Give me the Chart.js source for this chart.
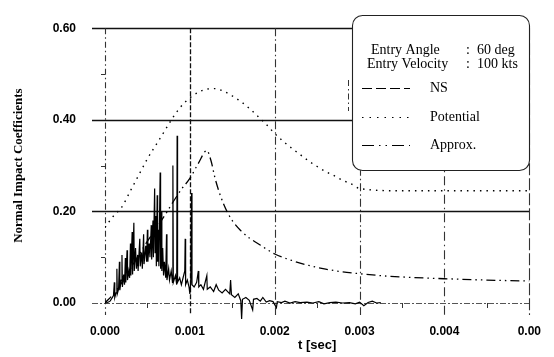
<!DOCTYPE html>
<html>
<head>
<meta charset="utf-8">
<script src="https://cdn.jsdelivr.net/npm/chart.js@4"></script>
<style>
html,body{margin:0;padding:0;background:#fff;}
#wrap{width:554px;height:357px;position:relative;}
</style>
</head>
<body>
<div id="wrap"><canvas id="c"></canvas></div>
<script>
// ---------- data (time in ms, displayed as seconds) ----------
const xTickLabels = ["0.000","0.001","0.002","0.003","0.004","0.00"];
const yTickLabels = ["0.00","0.20","0.40","0.60"];
const yMinorTicks = [0.1, 0.3, 0.5];
const xMinorTicks = [0.5, 1.5, 2.5, 3.5, 4.5];
const xGridValues = [0, 1, 2, 3, 4, 5];
const yGridValues = [0.2, 0.4, 0.6];

const seriesNames = ["NS", "Potential", "Approx."];
const headerLines = [["Entry Angle", ":", "60 deg"], ["Entry Velocity", ":", "100 kts"]];

const nsT = [0.00,0.03,0.06,0.08,0.10,0.11,0.115,0.13,0.14,0.145,0.16,0.17,0.175,0.19,0.20,0.205,0.22,0.23,0.24,0.245,
  0.26,0.265,0.28,0.29,0.30,0.305,0.32,0.325,0.34,0.345,0.36,0.37,0.385,0.39,0.41,0.415,0.43,0.44,0.455,0.46,
  0.48,0.49,0.50,0.505,0.52,0.53,0.545,0.55,0.565,0.57,0.585,0.59,0.60,0.605,0.615,0.62,0.63,0.635,0.65,0.655,
  0.665,0.67,0.68,0.69,0.70,0.715,0.725,0.73,0.75,0.76,0.78,0.795,0.80,0.805,0.83,0.845,0.85,0.855,0.88,0.90,
  0.94,0.945,0.95,0.97,0.99,1.00,1.01,1.02,1.025,1.05,1.08,1.10,1.105,1.13,1.16,1.20,1.205,1.24,1.28,1.31,
  1.34,1.38,1.42,1.47,1.48,1.49,1.53,1.57,1.60,1.61,1.62,1.66,1.70,1.74,1.75,1.79,1.83,1.86,1.90,1.94,
  1.98,2.02,2.03,2.08,2.12,2.18,2.24,2.30,2.38,2.45,2.52,2.58,2.65,2.72,2.80,2.88,2.95,3.00,3.05,3.10,3.15,3.20,3.25];
const nsV = [0.000,0.001,0.004,0.010,0.016,0.045,0.012,0.022,0.075,0.020,0.030,0.090,0.028,0.050,0.105,0.035,0.062,0.040,0.098,0.045,
  0.115,0.050,0.070,0.055,0.130,0.060,0.155,0.062,0.175,0.070,0.120,0.075,0.105,0.070,0.140,0.080,0.110,0.075,0.150,0.085,
  0.125,0.090,0.160,0.090,0.130,0.100,0.170,0.095,0.180,0.100,0.250,0.110,0.190,0.080,0.235,0.090,0.160,0.080,0.285,0.075,
  0.200,0.070,0.120,0.060,0.090,0.055,0.150,0.050,0.075,0.050,0.070,0.045,0.300,0.045,0.060,0.040,0.365,0.045,0.055,0.040,
  0.070,0.140,0.040,0.050,0.035,0.020,0.045,0.240,0.040,0.035,0.045,0.070,0.035,0.040,0.030,0.060,0.030,0.035,0.025,0.040,
  0.028,0.022,0.030,0.020,0.050,0.018,0.012,0.020,0.005,-0.035,0.008,0.012,0.006,-0.015,0.008,0.010,0.004,0.012,0.002,0.005,
  0.003,-0.010,0.003,0.001,0.004,0.000,0.003,0.001,0.002,0.000,0.003,-0.002,0.001,0.002,0.000,0.001,-0.002,0.002,-0.006,0.001,0.004,0.000,0.001];

const potT = [0.0,0.05,0.1,0.2,0.3,0.4,0.5,0.6,0.7,0.8,0.9,1.0,1.1,1.2,1.3,1.4,1.5,1.6,1.7,1.8,1.9,2.0,2.1,2.2,2.3,2.4,2.5,2.6,2.7,2.8,2.9,3.0,3.5,4.0,4.5,5.0];
const potV = [0.165,0.178,0.19,0.21,0.245,0.28,0.315,0.345,0.375,0.405,0.43,0.448,0.46,0.467,0.468,0.462,0.452,0.44,0.425,0.408,0.39,0.37,0.353,0.338,0.324,0.31,0.298,0.287,0.278,0.268,0.26,0.25,0.245,0.245,0.245,0.245];

const apxT = [0.0,0.1,0.2,0.3,0.4,0.5,0.6,0.7,0.8,0.9,1.0,1.1,1.2,1.25,1.3,1.4,1.5,1.6,1.7,1.8,1.9,2.0,2.2,2.4,2.6,2.8,3.0,3.3,3.6,4.0,4.5,5.0];
const apxV = [0.0,0.02,0.045,0.075,0.105,0.135,0.162,0.19,0.22,0.248,0.272,0.305,0.333,0.31,0.27,0.215,0.18,0.158,0.142,0.13,0.118,0.107,0.093,0.082,0.074,0.068,0.064,0.059,0.056,0.053,0.05,0.048];

const toPts = (ts, vs) => ts.map((t, i) => ({x: t, y: vs[i]}));

const LEFT = 105, AXH = 54;

const refGrid = {
  id: 'refGrid',
  beforeDatasetsDraw(chart) {
    const {ctx, chartArea: a, scales: {x, y}} = chart;
    ctx.save();
    ctx.strokeStyle = '#111';
    yGridValues.forEach(v => {
      const py = Math.round(y.getPixelForValue(v)) + 0.5;
      ctx.lineWidth = 1.3; ctx.setLineDash([]);
      ctx.beginPath(); ctx.moveTo(a.left - 13, py); ctx.lineTo(a.right, py); ctx.stroke();
    });
    {
      const py = Math.round(y.getPixelForValue(0)) + 0.5;
      ctx.lineWidth = 1; ctx.strokeStyle = '#555'; ctx.setLineDash([6, 2, 2, 2]);
      ctx.beginPath(); ctx.moveTo(a.left - 13, py); ctx.lineTo(a.right, py); ctx.stroke();
    }
    ctx.setLineDash([]); ctx.strokeStyle = '#333'; ctx.lineWidth = 1;
    yMinorTicks.forEach(v => {
      const py = Math.round(y.getPixelForValue(v)) + 0.5;
      ctx.beginPath(); ctx.moveTo(a.left - 4, py); ctx.lineTo(a.left, py); ctx.stroke();
    });
    xMinorTicks.forEach(v => {
      const px = Math.round(x.getPixelForValue(v)) + 0.5;
      ctx.beginPath(); ctx.moveTo(px, a.bottom); ctx.lineTo(px, a.bottom + 5); ctx.stroke();
    });
    const dashes = [[6,3,1.5,3],[5,2],[8,3,1.5,3],[8,3,1.5,3],[9,4,1.5,4],[12,3]];
    xGridValues.forEach((v, i) => {
      const px = Math.round(x.getPixelForValue(v)) + 0.5;
      ctx.strokeStyle = i === 1 ? '#111' : '#333';
      ctx.lineWidth = i === 1 ? 1.3 : 1.1;
      ctx.setLineDash(dashes[i]);
      ctx.beginPath(); ctx.moveTo(px, a.top); ctx.lineTo(px, a.bottom + 12); ctx.stroke();
    });
    ctx.restore();
  }
};

const legendSampleDash = [[10, 4], [1.5, 6], [12, 5, 1.5, 5, 1.5, 5]];

const legendBox = {
  id: 'legendBox',
  afterDatasetsDraw(chart) {
    const {ctx} = chart;
    const bx = 352, by = 15, bw = 177, bh = 155, r = 10;
    ctx.save();
    // stray bracket left of the box
    ctx.strokeStyle = '#333'; ctx.lineWidth = 1; ctx.setLineDash([6, 3, 1.5, 3]);
    ctx.beginPath(); ctx.moveTo(348.5, 80); ctx.lineTo(348.5, 111); ctx.stroke();
    ctx.setLineDash([]);
    ctx.fillStyle = '#fff';
    ctx.strokeStyle = '#222';
    ctx.lineWidth = 1.1;
    ctx.beginPath();
    ctx.roundRect(bx + 0.5, by + 0.5, bw, bh, r);
    ctx.fill(); ctx.stroke();
    ctx.fillStyle = '#000';
    ctx.font = '14px "Liberation Serif"';
    ctx.textBaseline = 'middle';
    ctx.textAlign = 'left';
    headerLines.forEach((ln, i) => {
      const yy = 50 + i * 14;
      ctx.fillText(ln[0], i === 0 ? 371 : 367, yy);
      ctx.fillText(ln[1], 466, yy);
      ctx.fillText(ln[2], 477, yy);
    });
    const ys = [88, 117, 145];
    chart.data.datasets.forEach((ds, i) => {
      ctx.strokeStyle = ds.borderColor;
      ctx.lineWidth = 1.2;
      ctx.setLineDash(legendSampleDash[i]);
      ctx.beginPath(); ctx.moveTo(362, ys[i] + 0.5); ctx.lineTo(410, ys[i] + 0.5); ctx.stroke();
      ctx.setLineDash([]);
      ctx.fillText(ds.label, 430, ys[i]);
    });
    ctx.restore();
  }
};

new Chart(document.getElementById('c'), {
  type: 'scatter',
  data: {
    datasets: [
      {label: seriesNames[0], data: toPts(nsT, nsV), showLine: true, borderColor: '#000', borderWidth: 1.2, pointRadius: 0, clip: 30},
      {label: seriesNames[1], data: toPts(potT, potV), showLine: true, borderColor: '#000', borderWidth: 1.4, pointRadius: 0, borderDash: [1.5, 5], cubicInterpolationMode: 'monotone'},
      {label: seriesNames[2], data: toPts(apxT, apxV), showLine: true, borderColor: '#000', borderWidth: 1.3, pointRadius: 0, borderDash: [9, 4, 1.5, 4, 1.5, 4], cubicInterpolationMode: 'monotone'}
    ]
  },
  options: {
    responsive: true,
    maintainAspectRatio: false,
    animation: false,
    layout: {padding: {top: 14, right: 23, left: 0, bottom: 0}},
    plugins: {legend: {display: false}, tooltip: {enabled: false}},
    elements: {line: {tension: 0}},
    scales: {
      x: {
        type: 'linear', min: 0, max: 5,
        grid: {display: false},
        border: {display: false},
        afterFit(s) { s.height = AXH; },
        ticks: {stepSize: 1, padding: 13, color: '#000', font: {family: '"Liberation Sans"', size: 12, weight: 'bold'},
          callback: (v) => xTickLabels[Math.round(v)] ?? ''},
        title: {display: true, text: 't [sec]', color: '#000', padding: {top: 0}, font: {family: '"Liberation Sans"', size: 13, weight: 'bold'}}
      },
      y: {
        type: 'linear', min: 0, max: 0.6,
        grid: {display: false},
        border: {display: false},
        afterFit(s) { s.width = LEFT; },
        ticks: {stepSize: 0.2, padding: 21, color: '#000', font: {family: '"Liberation Sans"', size: 12, weight: 'bold'},
          callback: (v) => yTickLabels[Math.round(v / 0.2)] ?? ''},
        title: {display: true, text: 'Normal Impact Coefficients', color: '#000', padding: {top: 11}, font: {family: '"Liberation Serif"', size: 13, weight: 'bold'}}
      }
    }
  },
  plugins: [refGrid, legendBox]
});
</script>
</body>
</html>
